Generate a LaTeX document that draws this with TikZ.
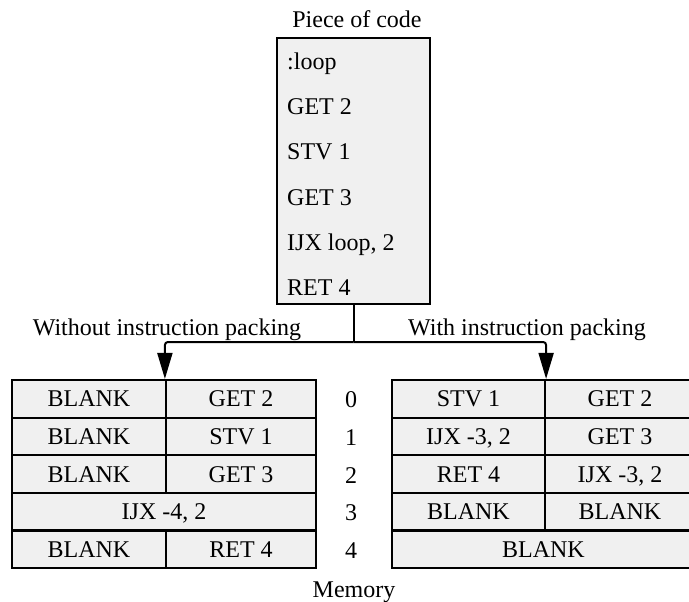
\documentclass[tikz,border=0pt]{standalone}
\usepackage{fontspec}
\setmainfont{Liberation Serif}
\usetikzlibrary{arrows.meta}
\begin{document}
\begin{tikzpicture}[x=1pt,y=-1pt,
  txt/.style={font=\fontsize{24}{28}\selectfont, inner sep=0pt},
  cell/.style={draw=black, line width=2.2pt, fill=gray!12, minimum height=37.6pt,
    inner sep=0pt, font=\fontsize{24}{28}\selectfont, text height=16pt, text depth=0pt},
  codebox/.style={draw=black, line width=2.2pt, fill=gray!12, minimum width=153pt,
    minimum height=266pt, inner sep=0pt},
  conn/.style={line width=2pt, rounded corners=3pt, -{Triangle[width=15pt,length=26pt]}},
  stem/.style={line width=2pt}
]
\useasboundingbox (0,0) rectangle (689,602);
\clip (0,0) rectangle (689,602);
\fill[white] (0,0) rectangle (689,602);

% code box
\node[txt, anchor=base] (title) at (357,28) {Piece of code};
\node[codebox] (code) at (353.5,171) {};
\node[txt, anchor=base west] (c1) at (287,70) {:loop};
\node[txt, anchor=base west] (c2) at (287,115) {GET 2};
\node[txt, anchor=base west] (c3) at (287,160) {STV 1};
\node[txt, anchor=base west] (c4) at (287,205) {GET 3};
\node[txt, anchor=base west] (c5) at (287,250) {IJX loop, 2};
\node[txt, anchor=base west] (c6) at (287,295) {RET 4};

% labels
\node[txt, anchor=base] (lwo) at (167,335) {Without instruction packing};
\node[txt, anchor=base] (lw) at (527,335) {With instruction packing};

% left table
\node[cell, minimum width=154pt] (L0a) at (89,398.8) {BLANK};
\node[cell, minimum width=150pt] (L0b) at (241,398.8) {GET 2};
\node[cell, minimum width=154pt] (L1a) at (89,436.4) {BLANK};
\node[cell, minimum width=150pt] (L1b) at (241,436.4) {STV 1};
\node[cell, minimum width=154pt] (L2a) at (89,474) {BLANK};
\node[cell, minimum width=150pt] (L2b) at (241,474) {GET 3};
\node[cell, minimum width=304pt] (L3) at (164,511.6) {IJX -4, 2};
\node[cell, minimum width=154pt] (L4a) at (89,549.2) {BLANK};
\node[cell, minimum width=150pt] (L4b) at (241,549.2) {RET 4};

% right table
\node[cell, minimum width=153pt] (R0a) at (468.5,398.8) {STV 1};
\node[cell, minimum width=150pt] (R0b) at (620,398.8) {GET 2};
\node[cell, minimum width=153pt] (R1a) at (468.5,436.4) {IJX -3, 2};
\node[cell, minimum width=150pt] (R1b) at (620,436.4) {GET 3};
\node[cell, minimum width=153pt] (R2a) at (468.5,474) {RET 4};
\node[cell, minimum width=150pt] (R2b) at (620,474) {IJX -3, 2};
\node[cell, minimum width=153pt] (R3a) at (468.5,511.6) {BLANK};
\node[cell, minimum width=150pt] (R3b) at (620,511.6) {BLANK};
\node[cell, minimum width=303pt] (R4) at (543.5,549.2) {BLANK};

% row numbers
\node[txt] (n0) at (351,400) {0};
\node[txt] (n1) at (351,437.6) {1};
\node[txt] (n2) at (351,475.2) {2};
\node[txt] (n3) at (351,512.8) {3};
\node[txt] (n4) at (351,550.4) {4};

\node[txt, anchor=base] (mem) at (354,597) {Memory};

% connectors
\coordinate (split) at (code.south |- 0,342);
\draw[stem] (code.south) -- (split);
\draw[conn] (split) -| (L0b.north west);
\draw[conn] (split) -| (R0a.north east);
\end{tikzpicture}
\end{document}
